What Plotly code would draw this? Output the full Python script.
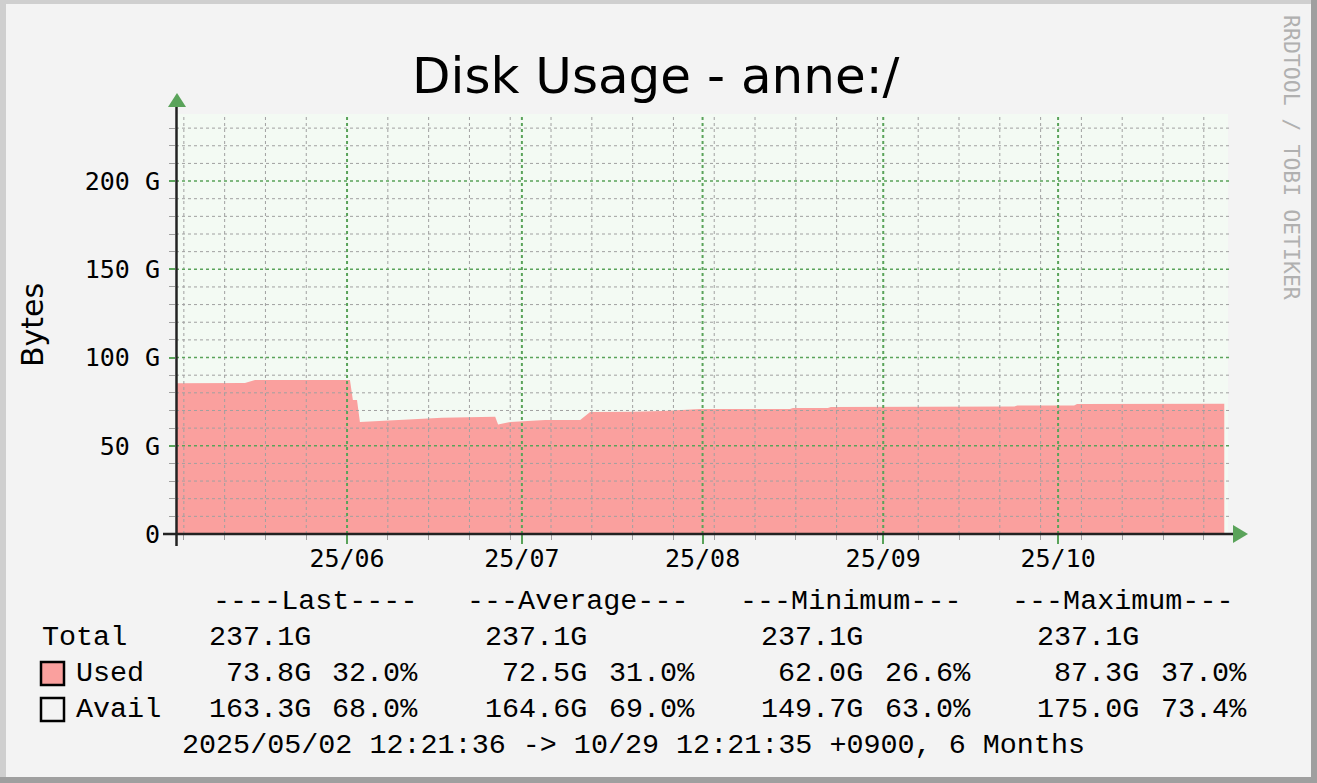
"""
Disk usage graph (RRDtool look) rebuilt with Plotly
"""

import plotly.graph_objects as go
import pandas as pd

# Used space on anne:/ in G
used_time = [
    "2025-05-02 12:21", "2025-05-14 11:30", "2025-05-16 05:00", "2025-05-25 15:00",
    "2025-05-25 18:00", "2025-06-01 12:00", "2025-06-02 00:00", "2025-06-02 17:00",
    "2025-06-03 05:00", "2025-06-07 20:00", "2025-06-11 19:00", "2025-06-17 07:00",
    "2025-06-26 10:00", "2025-06-26 22:00", "2025-06-29 00:00", "2025-07-01 22:00",
    "2025-07-05 00:00", "2025-07-11 00:00", "2025-07-11 22:00", "2025-07-12 17:00",
    "2025-07-20 03:00", "2025-07-25 03:00", "2025-07-31 15:00", "2025-08-16 00:00",
    "2025-08-16 12:00", "2025-08-22 12:00", "2025-08-23 00:00", "2025-09-05 12:00",
    "2025-09-06 00:00", "2025-09-23 12:00", "2025-09-24 00:00", "2025-10-03 18:00",
    "2025-10-04 06:00", "2025-10-25 00:00", "2025-10-29 12:21",
]
used_gb = [
    85.4, 85.6, 87.2, 87.2,
    87.3, 87.3, 75.9, 75.9,
    63.5, 64.2, 65.2, 65.9,
    66.5, 62.0, 63.5, 64.0,
    64.6, 64.6, 66.9, 69.1,
    69.3, 69.7, 70.8, 70.8,
    71.4, 71.4, 72.0, 72.0,
    72.2, 72.2, 72.8, 72.8,
    73.6, 73.7, 73.8,
]

y_tick_vals = [0, 50, 100, 150, 200]
y_tick_text = ["0", "50 G", "100 G", "150 G", "200 G"]

# legend table
stat_heads = ["----Last----", "---Average---", "---Minimum---", "---Maximum---"]
total_vals = ["237.1G", "237.1G", "237.1G", "237.1G"]
used_vals = ["73.8G", "72.5G", "62.0G", "87.3G"]
used_pct = ["32.0%", "31.0%", "26.6%", "37.0%"]
avail_vals = ["163.3G", "164.6G", "149.7G", "175.0G"]
avail_pct = ["68.0%", "69.0%", "63.0%", "73.4%"]
period_text = "2025/05/02 12:21:36 -> 10/29 12:21:35 +0900, 6 Months"

W, H = 1317, 783
L, R, T, B = 176, 1228, 114, 534
GREEN = "#5aa35a"
GREY = "#a0a0a0"
PINK = "#faa09e"
MONO = "DejaVu Sans Mono"
LEG = "Liberation Mono"


def px(x):
    return (x - L) / (R - L)


def py(y):
    return (B - y) / (B - T)


fig = go.Figure()

fig.add_trace(go.Scatter(
    x=pd.to_datetime(used_time),
    y=used_gb,
    mode="lines",
    line=dict(width=0, color=PINK),
    fill="tozeroy",
    fillcolor=PINK,
    showlegend=False,
    hoverinfo="skip",
))

shapes = []

# grid (drawn above the area, like rrdtool does)
for d in pd.date_range("2025-05-04", "2025-10-26", freq="7D"):
    if d.day == 1:
        continue
    shapes.append(dict(type="line", xref="x", yref="paper", x0=d, x1=d, y0=0, y1=1,
                       line=dict(color=GREY, width=1, dash="3px,3px"), layer="above"))
for v in range(10, 240, 10):
    if v % 50 == 0:
        continue
    shapes.append(dict(type="line", xref="paper", yref="y", x0=0, x1=px(1232), y0=v, y1=v,
                       line=dict(color=GREY, width=1, dash="3px,3px"), layer="above"))
for d in pd.date_range("2025-06-01", "2025-10-01", freq="MS"):
    shapes.append(dict(type="line", xref="x", yref="paper", x0=d, x1=d, y0=0, y1=1,
                       line=dict(color=GREEN, width=2, dash="3px,3px"), layer="above"))
for v in [50, 100, 150, 200]:
    shapes.append(dict(type="line", xref="paper", yref="y", x0=0, x1=px(1232), y0=v, y1=v,
                       line=dict(color=GREEN, width=1.5, dash="3px,3px"), layer="above"))

# axes with arrows
shapes.append(dict(type="line", xref="paper", yref="paper", x0=px(163), x1=px(1234),
                   y0=0, y1=0, line=dict(color="#222222", width=2.5), layer="above"))
shapes.append(dict(type="line", xref="paper", yref="paper", x0=px(176.5), x1=px(176.5),
                   y0=py(546), y1=py(106), line=dict(color="#222222", width=2.5), layer="above"))
shapes.append(dict(type="path", xref="paper", yref="paper", layer="above",
                   path=f"M {px(168)},{py(107)} L {px(186)},{py(107)} L {px(177)},{py(93)} Z",
                   fillcolor=GREEN, line=dict(width=0)))
shapes.append(dict(type="path", xref="paper", yref="paper", layer="above",
                   path=f"M {px(1233)},{py(525)} L {px(1233)},{py(543)} L {px(1248)},{py(534)} Z",
                   fillcolor=GREEN, line=dict(width=0)))

# legend boxes
shapes.append(dict(type="rect", xref="paper", yref="paper", x0=px(41), x1=px(64),
                   y0=py(685), y1=py(662), fillcolor=PINK, line=dict(color="black", width=2.5)))
shapes.append(dict(type="rect", xref="paper", yref="paper", x0=px(41), x1=px(64),
                   y0=py(721), y1=py(698), line=dict(color="black", width=2.5)))

# 3d frame
shapes.append(dict(type="rect", xref="paper", yref="paper", x0=px(0), x1=px(W), y0=py(0), y1=py(4),
                   fillcolor="#cfcfcf", line=dict(width=0)))
shapes.append(dict(type="rect", xref="paper", yref="paper", x0=px(0), x1=px(6), y0=py(0), y1=py(H),
                   fillcolor="#cfcfcf", line=dict(width=0)))
shapes.append(dict(type="rect", xref="paper", yref="paper", x0=px(1311), x1=px(W), y0=py(0), y1=py(H),
                   fillcolor="#9f9f9f", line=dict(width=0)))
shapes.append(dict(type="rect", xref="paper", yref="paper", x0=px(0), x1=px(W), y0=py(777), y1=py(H),
                   fillcolor="#9f9f9f", line=dict(width=0)))

annotations = []


def text(s, x, y, anchor="left", size=28.4, family=LEG, color="black", angle=0):
    annotations.append(dict(text=s, x=px(x), y=py(y), xref="paper", yref="paper",
                            xanchor=anchor, yanchor="middle", showarrow=False,
                            textangle=angle, font=dict(family=family, size=size, color=color)))


text("Disk Usage - anne:/", 656, 76, anchor="center", size=50, family="DejaVu Sans")
text("Bytes", 32, 325, anchor="center", size=30, family="DejaVu Sans", angle=-90)
text("RRDTOOL / TOBI OETIKER", 1292, 157, anchor="center", size=21.5, family=MONO,
     color="#b0b0b0", angle=90)

head_x = [211, 465, 738, 1010]
val_right = [313, 589, 865, 1141]
pct_right = [420, 697, 973, 1249]
for i in range(4):
    text(stat_heads[i], head_x[i], 601)
    text(total_vals[i], val_right[i], 637, anchor="right")
    text(used_vals[i], val_right[i], 673, anchor="right")
    text(used_pct[i], pct_right[i], 673, anchor="right")
    text(avail_vals[i], val_right[i], 709, anchor="right")
    text(avail_pct[i], pct_right[i], 709, anchor="right")
text("Total", 40, 637)
text("Used", 74, 673)
text("Avail", 74, 709)
text(period_text, 180, 745)

fig.update_layout(
    width=W,
    height=H,
    margin=dict(l=L, r=W - R, t=T, b=H - B, autoexpand=False),
    paper_bgcolor="#f3f3f3",
    plot_bgcolor="#f3faf3",
    shapes=shapes,
    annotations=annotations,
    showlegend=False,
)

fig.update_xaxes(
    type="date",
    range=["2025-05-02 15:40", "2025-10-30 03:40"],
    tickmode="linear",
    tick0="2025-06-01",
    dtick="M1",
    tickformat="%y/%m",
    showgrid=False,
    zeroline=False,
    showline=False,
    ticks="outside",
    ticklen=9,
    tickwidth=2,
    tickcolor=GREEN,
    ticklabelstandoff=-7,
    tickfont=dict(family=MONO, size=25, color="black"),
    minor=dict(tickmode="linear", tick0="2025-05-04", dtick=7 * 86400000,
               ticks="outside", ticklen=5, tickwidth=1, tickcolor=GREY, showgrid=False),
    layer="above traces",
)

fig.update_yaxes(
    range=[0, 238],
    tickmode="array",
    tickvals=y_tick_vals,
    ticktext=y_tick_text,
    showgrid=False,
    zeroline=False,
    showline=False,
    ticks="outside",
    ticklen=6,
    tickwidth=2,
    tickcolor=GREEN,
    ticklabelstandoff=4,
    tickfont=dict(family=MONO, size=25, color="black"),
    minor=dict(tickmode="linear", tick0=0, dtick=10, ticks="outside", ticklen=6,
               tickwidth=1, tickcolor=GREY, showgrid=False),
    layer="above traces",
)

# page has a default body margin; drop it so the graph fills the window
fig.write_html("out.html", config={"displayModeBar": False},
               post_script="document.body.style.margin='0';")
